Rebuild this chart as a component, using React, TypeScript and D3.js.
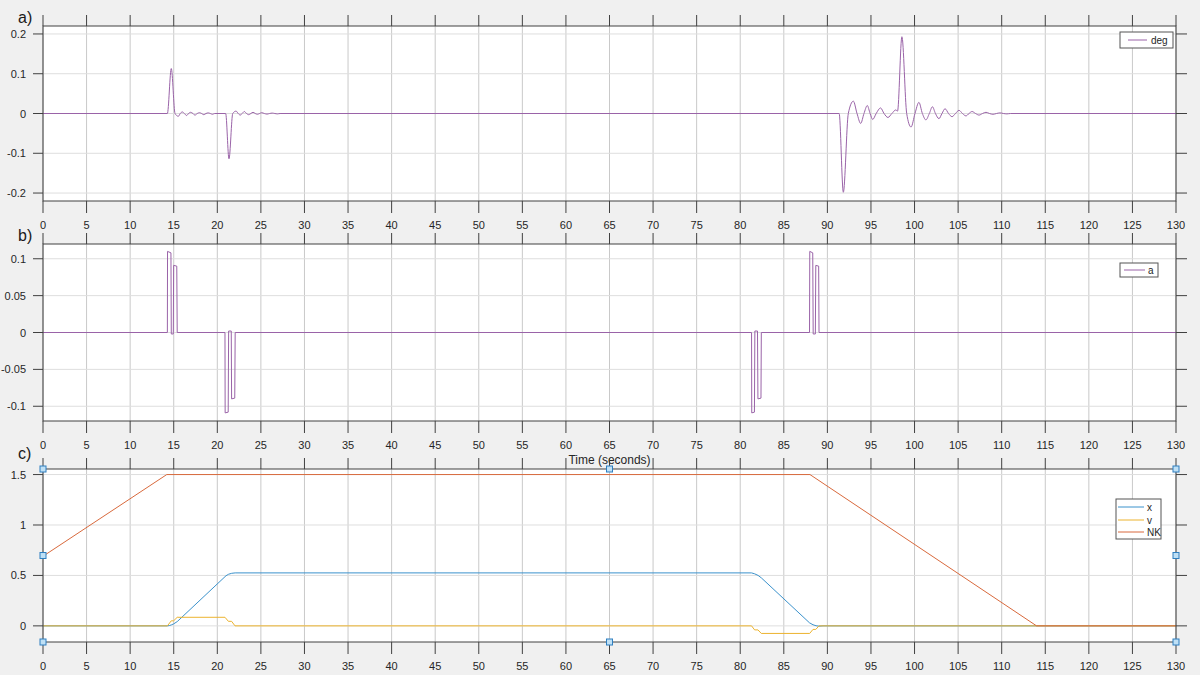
import * as d3 from "d3";

const chartWidth = 1200;
const chartHeight = 675;
const plotLeft = 43;
const plotRight = 1176;
const fontFamily = "'Liberation Sans', Arial, Helvetica, sans-serif";

const timeTicks = [0, 5, 10, 15, 20, 25, 30, 35, 40, 45, 50, 55, 60, 65, 70, 75, 80, 85, 90, 95, 100, 105, 110, 115, 120, 125, 130];

// a) deg - damped oscillation after each manoeuvre
const degStart: [number, number][] = [[0, 0]];
const degFirstEvent: [number, number][] = [
  [14.27, 0], [14.72, 0.113], [15.15, 0], [15.53, -0.007], [15.75, 0], [15.98, 0.004], [16.22, 0],
  [16.48, -0.005], [16.7, 0], [16.94, 0.003], [17.2, 0], [17.44, -0.004], [17.7, 0], [17.95, 0.002],
  [18.2, 0], [18.45, -0.003], [18.7, 0], [18.95, 0.0015], [19.2, 0], [19.45, -0.002], [19.7, 0],
  [20.96, 0], [21.34, -0.114], [21.77, 0], [22.15, 0.006], [22.4, 0], [22.62, -0.004], [22.85, 0],
  [23.1, 0.005], [23.35, 0], [23.6, -0.003], [23.85, 0], [24.1, 0.003], [24.35, 0], [24.6, -0.002],
  [24.85, 0], [25.1, 0.002], [25.4, 0], [25.7, -0.0015], [26, 0], [26.3, 0.001], [26.6, 0],
  [26.9, -0.001], [27.2, 0],
];
const degSecondEvent: [number, number][] = [
  [91.35, 0], [91.83, -0.198], [92.4, 0], [92.98, 0.031], [93.4, 0], [93.82, -0.025], [94.2, 0],
  [94.58, 0.02], [94.9, 0], [95.2, -0.015], [95.6, 0], [96.1, 0.014], [96.5, 0], [96.95, -0.01],
  [97.4, 0], [97.85, 0.009], [98.05, 0.006], [98.55, 0.193], [99.1, 0], [99.6, -0.034], [100.05, 0],
  [100.5, 0.028], [100.9, 0], [101.3, -0.016], [101.7, 0], [102.05, 0.017], [102.4, 0], [102.8, -0.013],
  [103.15, 0], [103.5, 0.012], [103.9, 0], [104.3, -0.008], [104.7, 0], [105.1, 0.008], [105.5, 0],
  [105.9, -0.006], [106.25, 0], [106.6, 0.005], [107, 0], [107.4, -0.004], [107.8, 0], [108.2, 0.003],
  [108.6, 0], [109, -0.002], [109.4, 0], [109.8, 0.0015], [110.2, 0], [110.6, -0.001], [111, 0],
];
const degEnd: [number, number][] = [[130, 0]];

// b) a - bang-bang acceleration pulses
const accelPulses: [number, number][] = [
  [0, 0], [14.27, 0], [14.29, 0.11], [14.68, 0.108], [14.72, -0.002], [14.95, -0.002], [14.99, 0.091],
  [15.35, 0.09], [15.4, 0], [20.88, 0], [20.9, -0.109], [21.25, -0.108], [21.3, 0.002], [21.6, 0.002],
  [21.64, -0.09], [22.0, -0.089], [22.05, 0], [81.3, 0], [81.32, -0.109], [81.63, -0.108],
  [81.68, 0.002], [81.98, 0.002], [82.03, -0.09], [82.38, -0.089], [82.42, 0], [87.95, 0],
  [87.98, 0.11], [88.32, 0.108], [88.37, -0.002], [88.62, -0.002], [88.67, 0.091], [89.0, 0.09],
  [89.04, 0], [130, 0],
];

// c) x, v, NK
const positionPoints: [number, number][] = [
  [0, 0], [14.27, 0], [14.5, 0.003], [14.72, 0.009], [15.0, 0.02], [15.4, 0.042], [21.0, 0.497],
  [21.3, 0.512], [21.65, 0.521], [22.05, 0.525], [81.3, 0.525], [81.65, 0.516], [82.05, 0.5],
  [82.42, 0.476], [87.95, 0.03], [88.35, 0.011], [88.7, 0.001], [89.04, -0.003], [89.5, 0], [130, 0],
];
const velocityPoints: [number, number][] = [
  [0, 0], [14.27, 0], [14.72, 0.05], [14.99, 0.05], [15.4, 0.085], [20.88, 0.085], [21.27, 0.045],
  [21.64, 0.045], [22.03, 0], [81.3, 0], [81.65, -0.04], [82.03, -0.04], [82.42, -0.075],
  [87.97, -0.075], [88.35, -0.035], [88.67, -0.035], [89.04, 0], [130, 0],
];
const nkPoints: [number, number][] = [[0, 0.69], [14.2, 1.5], [88, 1.5], [114, 0], [130, 0]];

const degTicks = [-0.2, -0.1, 0, 0.1, 0.2];
const accelTicks = [-0.1, -0.05, 0, 0.05, 0.1];
const motionTicks = [0, 0.5, 1, 1.5];

type Series = { name: string; points: [number, number][]; color: string; curve: d3.CurveFactory };

const x = d3.scaleLinear().domain([0, 130]).range([plotLeft, plotRight]);

type PanelProps = {
  id: string;
  top: number;
  bottom: number;
  yDomain: [number, number];
  yTicks: number[];
  series: Series[];
  label: string;
  labelY: number;
  tickLabelY: number;
  legend: { x: number; y: number; w: number; h: number; rowY: number[]; lineX: [number, number]; textX: number };
  handles?: boolean;
};

const fmt = (v: number) => String(v);

function Panel(props: PanelProps) {
  const { id, top, bottom, yDomain, yTicks, series, label, labelY, tickLabelY, legend, handles } = props;
  const y = d3.scaleLinear().domain(yDomain).range([bottom, top]);
  const line = (s: Series) =>
    d3.line<[number, number]>().x((d) => x(d[0])).y((d) => y(d[1])).curve(s.curve)(s.points) || "";
  const axisColor = "#404040";
  const midX = (plotLeft + plotRight) / 2;
  const midY = (top + bottom) / 2;
  const handlePts = [
    [plotLeft, top], [midX, top], [plotRight, top],
    [plotLeft, midY], [plotRight, midY],
    [plotLeft, bottom], [midX, bottom], [plotRight, bottom],
  ];

  return (
    <g>
      <defs>
        <clipPath id={`clip-${id}`}>
          <rect x={plotLeft} y={top} width={plotRight - plotLeft} height={bottom - top} />
        </clipPath>
      </defs>
      <rect x={plotLeft} y={top} width={plotRight - plotLeft} height={bottom - top} fill="#ffffff" />
      {timeTicks.map((t) => (
        <line key={`vg${t}`} x1={x(t)} x2={x(t)} y1={top} y2={bottom} stroke="#c9c9c9" strokeWidth={1} />
      ))}
      {yTicks.map((v) => (
        <line key={`hg${v}`} x1={plotLeft} x2={plotRight} y1={y(v)} y2={y(v)} stroke="#dedede" strokeWidth={1} />
      ))}
      <g clipPath={`url(#clip-${id})`}>
        {series.map((s) => (
          <path key={s.name} d={line(s)} fill="none" stroke={s.color} strokeWidth={1} strokeLinejoin="round" />
        ))}
      </g>
      <rect x={plotLeft} y={top} width={plotRight - plotLeft} height={bottom - top} fill="none" stroke={axisColor} strokeWidth={1} />
      {timeTicks.map((t) => (
        <g key={`xt${t}`}>
          <line x1={x(t)} x2={x(t)} y1={top - 11} y2={top} stroke={axisColor} />
          <line x1={x(t)} x2={x(t)} y1={bottom} y2={bottom + 12} stroke={axisColor} />
          <text x={x(t)} y={tickLabelY} textAnchor="middle" fontSize={11} fill="#262626" fontFamily={fontFamily}>
            {t}
          </text>
        </g>
      ))}
      {yTicks.map((v) => (
        <g key={`yt${v}`}>
          <line x1={plotLeft - 10} x2={plotLeft} y1={y(v)} y2={y(v)} stroke={axisColor} />
          <line x1={plotRight} x2={plotRight + 11} y1={y(v)} y2={y(v)} stroke={axisColor} />
          <text x={26} y={y(v) + 4} textAnchor="end" fontSize={11} fill="#262626" fontFamily={fontFamily}>
            {fmt(v)}
          </text>
        </g>
      ))}
      <text x={18} y={labelY} fontSize={16} fill="#1a1a1a" fontFamily={fontFamily}>
        {label}
      </text>
      <g>
        <rect x={legend.x} y={legend.y} width={legend.w} height={legend.h} fill="#ffffff" stroke="#555555" strokeWidth={1} />
        {series.map((s, i) => (
          <g key={`lg${s.name}`}>
            <line x1={legend.lineX[0]} x2={legend.lineX[1]} y1={legend.rowY[i]} y2={legend.rowY[i]} stroke={s.color} strokeWidth={1} />
            <text x={legend.textX} y={legend.rowY[i] + 3.5} fontSize={10} fill="#262626" fontFamily={fontFamily}>
              {s.name}
            </text>
          </g>
        ))}
      </g>
      {handles &&
        handlePts.map(([hx, hy], i) => (
          <rect key={`h${i}`} x={hx - 3} y={hy - 3} width={6} height={6} fill="#bfe0f5" stroke="#2f7fc0" strokeWidth={1} />
        ))}
    </g>
  );
}

export default function App() {
  const purple = "#9a63a8";
  return (
    <div style={{ position: "absolute", left: 0, top: 0, width: chartWidth, height: chartHeight }}>
      <svg width={chartWidth} height={chartHeight} style={{ display: "block", background: "#f0f0f0" }}>
        <Panel
          id="a"
          top={26}
          bottom={201}
          yDomain={[-0.22, 0.22]}
          yTicks={degTicks}
          series={[{ name: "deg", points: [...degStart, ...degFirstEvent, ...degSecondEvent, ...degEnd], color: purple, curve: d3.curveMonotoneX }]}
          label="a)"
          labelY={23}
          tickLabelY={229}
          legend={{ x: 1120, y: 32, w: 53, h: 16, rowY: [40], lineX: [1128, 1147], textX: 1151 }}
        />
        <Panel
          id="b"
          top={244}
          bottom={421}
          yDomain={[-0.12, 0.12]}
          yTicks={accelTicks}
          series={[{ name: "a", points: accelPulses, color: purple, curve: d3.curveLinear }]}
          label="b)"
          labelY={241}
          tickLabelY={449}
          legend={{ x: 1120, y: 263, w: 38, h: 14, rowY: [270], lineX: [1124, 1145], textX: 1148 }}
        />
        <text x={609.5} y={464} textAnchor="middle" fontSize={12} fill="#262626" fontFamily={fontFamily}>
          Time (seconds)
        </text>
        <Panel
          id="c"
          top={469}
          bottom={642}
          yDomain={[-0.16, 1.555]}
          yTicks={motionTicks}
          series={[
            { name: "x", points: positionPoints, color: "#3b92cc", curve: d3.curveLinear },
            { name: "v", points: velocityPoints, color: "#ecb32e", curve: d3.curveLinear },
            { name: "NK", points: nkPoints, color: "#d8693c", curve: d3.curveLinear },
          ]}
          label="c)"
          labelY={459}
          tickLabelY={670}
          legend={{ x: 1116, y: 499, w: 45, h: 40, rowY: [507, 520, 532], lineX: [1118, 1144], textX: 1147 }}
          handles
        />
      </svg>
    </div>
  );
}
